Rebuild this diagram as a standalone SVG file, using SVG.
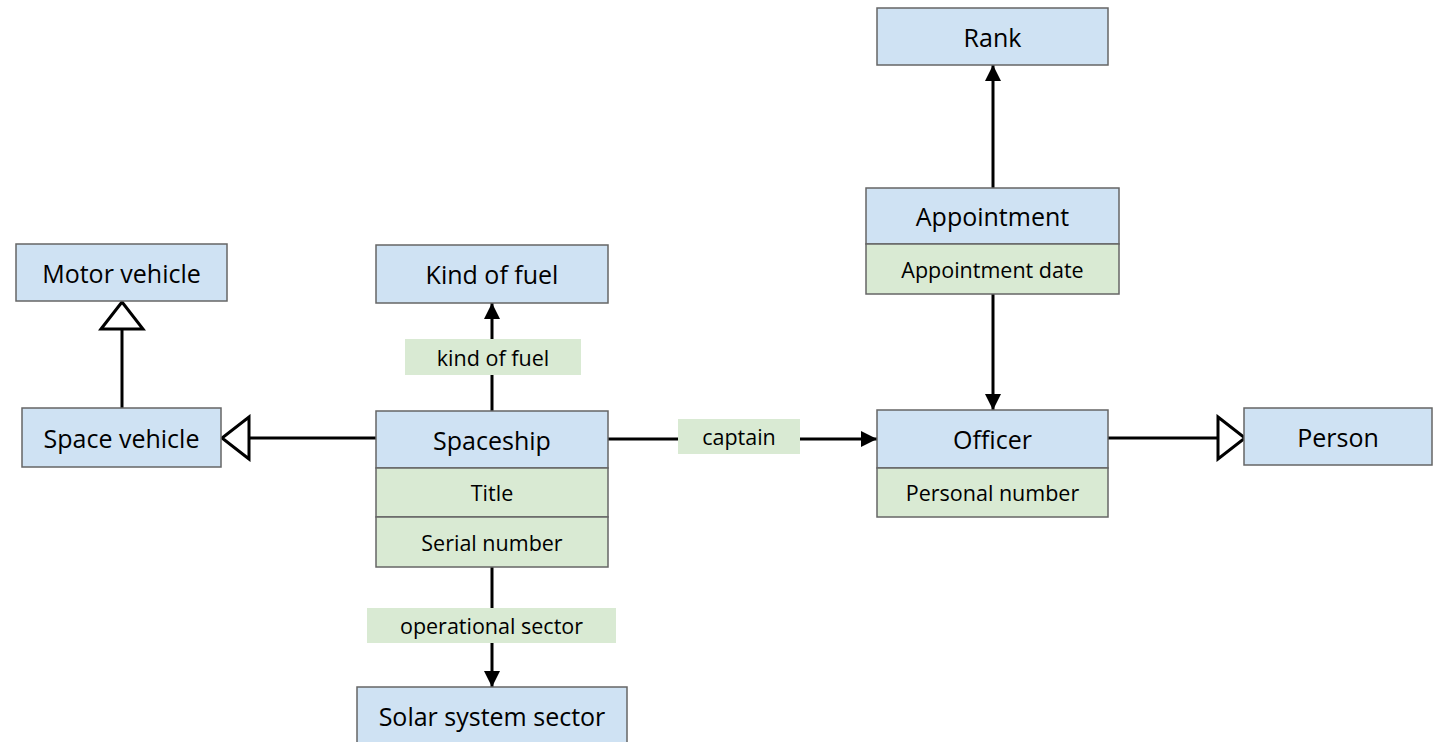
<svg xmlns="http://www.w3.org/2000/svg" width="1445" height="742" viewBox="0 0 1445 742">
<style>
.bg{fill:#ffffff}
.cls{fill:#cfe2f3;stroke:#666666;stroke-width:1.5}
.att{fill:#d9ead3;stroke:#666666;stroke-width:1.5}
.lbl{fill:#d9ead3;stroke:none}
.t{font-family:"Open Sans","Noto Sans",sans-serif;font-size:25px;fill:#000;text-anchor:middle;dominant-baseline:central}
.s{font-family:"Open Sans","Noto Sans",sans-serif;font-size:21.5px;fill:#000;text-anchor:middle;dominant-baseline:central}
.ln{fill:none;stroke:#000;stroke-width:3}
.ar{marker-end:url(#arrow)}
.gen{marker-end:url(#gen)}
</style>
<defs>
<marker id="arrow" markerUnits="userSpaceOnUse" markerWidth="16" markerHeight="16" refX="16" refY="8" orient="auto" viewBox="0 0 16 16">
<path d="M0,0 L16,8 L0,16 z" fill="#000"/>
</marker>
<marker id="gen" markerUnits="userSpaceOnUse" markerWidth="34" markerHeight="48" refX="30" refY="24" orient="auto" viewBox="0 0 34 48">
<path d="M3,3 L30,24 L3,45 z" fill="#fff" stroke="#000" stroke-width="3"/>
</marker>
</defs>
<rect class="bg" x="0" y="0" width="1445" height="742"/>
<g id="connectors">
<path class="ln gen" d="M122,408 V302"/>
<path class="ln gen" d="M376,438 H222"/>
<path class="ln ar" d="M492,411 V303"/>
<path class="ln ar" d="M492,567 V687"/>
<path class="ln ar" d="M608,439 H877"/>
<path class="ln gen" d="M1108,438 H1245"/>
<path class="ln ar" d="M993,188 V65"/>
<path class="ln ar" d="M993,294 V410"/>
<g id="label-kind-of-fuel"><rect class="lbl" x="405" y="339" width="176" height="36"/><text class="s" x="493" y="357">kind of fuel</text></g>
<g id="label-operational-sector"><rect class="lbl" x="367" y="608" width="249" height="35"/><text class="s" x="491.5" y="625.5">operational sector</text></g>
<g id="label-captain"><rect class="lbl" x="678" y="419" width="122" height="35"/><text class="s" x="739" y="436.5">captain</text></g>
</g>
<g id="motor-vehicle"><rect class="cls" x="16" y="244" width="211" height="57"/><text class="t" x="121.5" y="272.5">Motor vehicle</text></g>
<g id="space-vehicle"><rect class="cls" x="22" y="408" width="199" height="59"/><text class="t" x="121.5" y="437.5">Space vehicle</text></g>
<g id="kind-of-fuel"><rect class="cls" x="376" y="245" width="232" height="58"/><text class="t" x="492" y="274">Kind of fuel</text></g>
<g id="spaceship">
<rect class="cls" x="376" y="411" width="232" height="57"/><text class="t" x="492" y="439.5">Spaceship</text>
<rect class="att" x="376" y="468" width="232" height="49"/><text class="s" x="492" y="492.5">Title</text>
<rect class="att" x="376" y="517" width="232" height="50"/><text class="s" x="492" y="542">Serial number</text>
</g>
<g id="solar-system-sector"><rect class="cls" x="357" y="687" width="270" height="70"/><text class="t" x="492" y="716">Solar system sector</text></g>
<g id="rank"><rect class="cls" x="877" y="8" width="231" height="57"/><text class="t" x="992.5" y="36.5">Rank</text></g>
<g id="appointment">
<rect class="cls" x="866" y="188" width="253" height="56"/><text class="t" x="992.5" y="216">Appointment</text>
<rect class="att" x="866" y="244" width="253" height="50"/><text class="s" x="992.5" y="269">Appointment date</text>
</g>
<g id="officer">
<rect class="cls" x="877" y="410" width="231" height="58"/><text class="t" x="992.5" y="439">Officer</text>
<rect class="att" x="877" y="468" width="231" height="49"/><text class="s" x="992.5" y="492.5">Personal number</text>
</g>
<g id="person"><rect class="cls" x="1244" y="408" width="188" height="57"/><text class="t" x="1338" y="436.5">Person</text></g>
</svg>
